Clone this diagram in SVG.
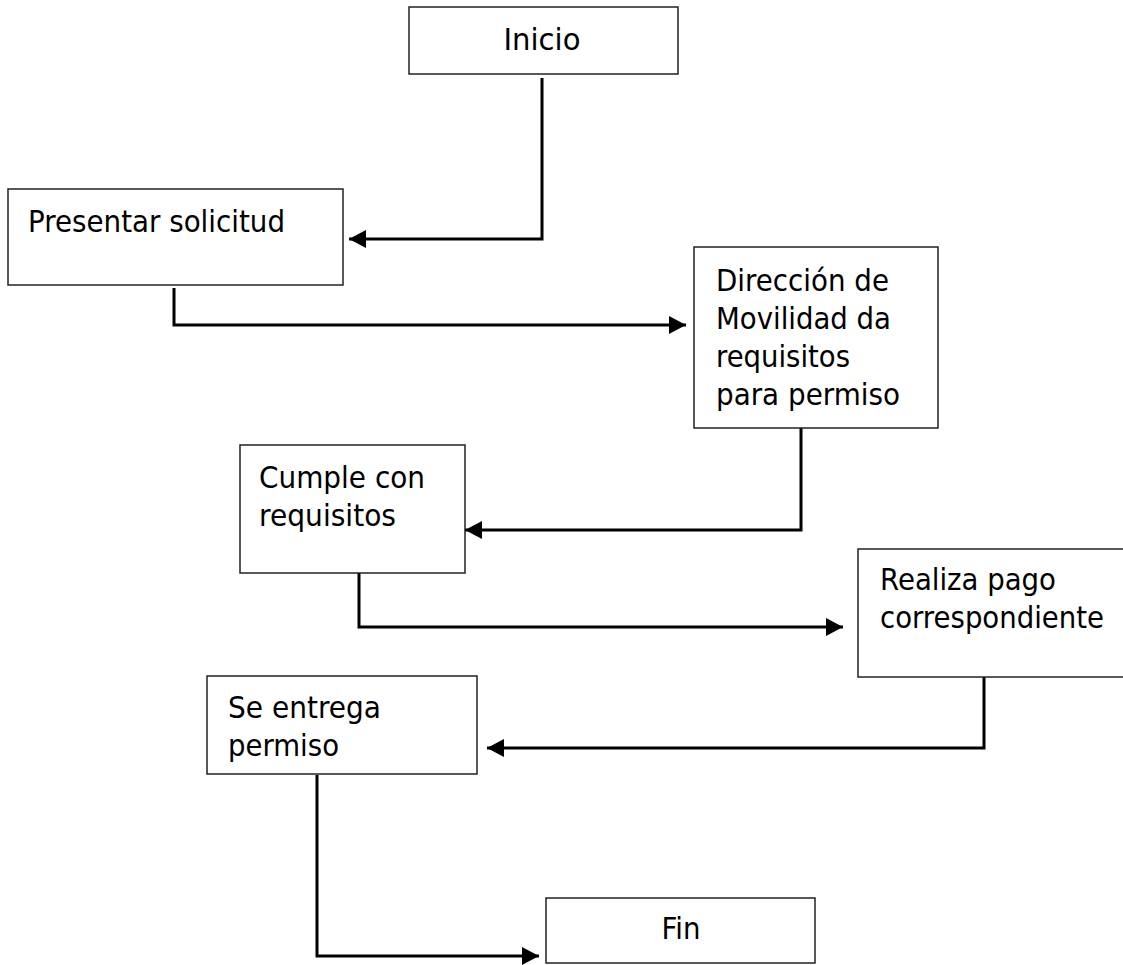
<svg xmlns="http://www.w3.org/2000/svg" width="1123" height="965" viewBox="0 0 1123 965">
<style>
.box{fill:#fff;stroke:#222;stroke-width:1.5}
.t{font-family:"DejaVu Sans","Liberation Sans",sans-serif;font-size:31px;fill:#000}
.c{fill:none;stroke:#000;stroke-width:3}
</style>
<defs>
<marker id="ah" markerUnits="userSpaceOnUse" markerWidth="18" markerHeight="18" refX="17" refY="9" orient="auto">
<path d="M0,0 L17,9 L0,18 Z" fill="#000"/>
</marker>
</defs>
<rect width="1123" height="965" fill="#fff"/>
<g id="connectors">
<path class="c" d="M542,78 V239 H349" marker-end="url(#ah)"/>
<path class="c" d="M174,288 V325 H686" marker-end="url(#ah)"/>
<path class="c" d="M801,424 V530 H465" marker-end="url(#ah)"/>
<path class="c" d="M359,566 V627 H843" marker-end="url(#ah)"/>
<path class="c" d="M984,668 V748 H487" marker-end="url(#ah)"/>
<path class="c" d="M317,775 V956 H539" marker-end="url(#ah)"/>
</g>
<g id="inicio">
<rect class="box" x="409" y="7" width="269" height="67"/>
<text class="t" x="542" y="50" text-anchor="middle" textLength="77" lengthAdjust="spacingAndGlyphs">Inicio</text>
</g>
<g id="presentar">
<rect class="box" x="8" y="189" width="335" height="96"/>
<text class="t" x="28" y="232" textLength="257" lengthAdjust="spacingAndGlyphs">Presentar solicitud</text>
</g>
<g id="direccion">
<rect class="box" x="694" y="247" width="244" height="181"/>
<text class="t" x="716" y="291" textLength="173" lengthAdjust="spacingAndGlyphs">Dirección de</text>
<text class="t" x="716" y="329" textLength="175" lengthAdjust="spacingAndGlyphs">Movilidad da</text>
<text class="t" x="716" y="367" textLength="134" lengthAdjust="spacingAndGlyphs">requisitos</text>
<text class="t" x="716" y="405" textLength="184" lengthAdjust="spacingAndGlyphs">para permiso</text>
</g>
<g id="cumple">
<rect class="box" x="240" y="445" width="225" height="128"/>
<text class="t" x="259" y="488" textLength="166" lengthAdjust="spacingAndGlyphs">Cumple con</text>
<text class="t" x="259" y="526" textLength="137" lengthAdjust="spacingAndGlyphs">requisitos</text>
</g>
<g id="realiza">
<rect class="box" x="858" y="549" width="275" height="128"/>
<text class="t" x="880" y="590" textLength="176" lengthAdjust="spacingAndGlyphs">Realiza pago</text>
<text class="t" x="880" y="628" textLength="224" lengthAdjust="spacingAndGlyphs">correspondiente</text>
</g>
<g id="entrega">
<rect class="box" x="207" y="676" width="270" height="98"/>
<text class="t" x="228" y="718" textLength="153" lengthAdjust="spacingAndGlyphs">Se entrega</text>
<text class="t" x="228" y="756" textLength="111" lengthAdjust="spacingAndGlyphs">permiso</text>
</g>
<g id="fin">
<rect class="box" x="546" y="898" width="269" height="65"/>
<text class="t" x="681" y="939" text-anchor="middle" textLength="39" lengthAdjust="spacingAndGlyphs">Fin</text>
</g>
</svg>
